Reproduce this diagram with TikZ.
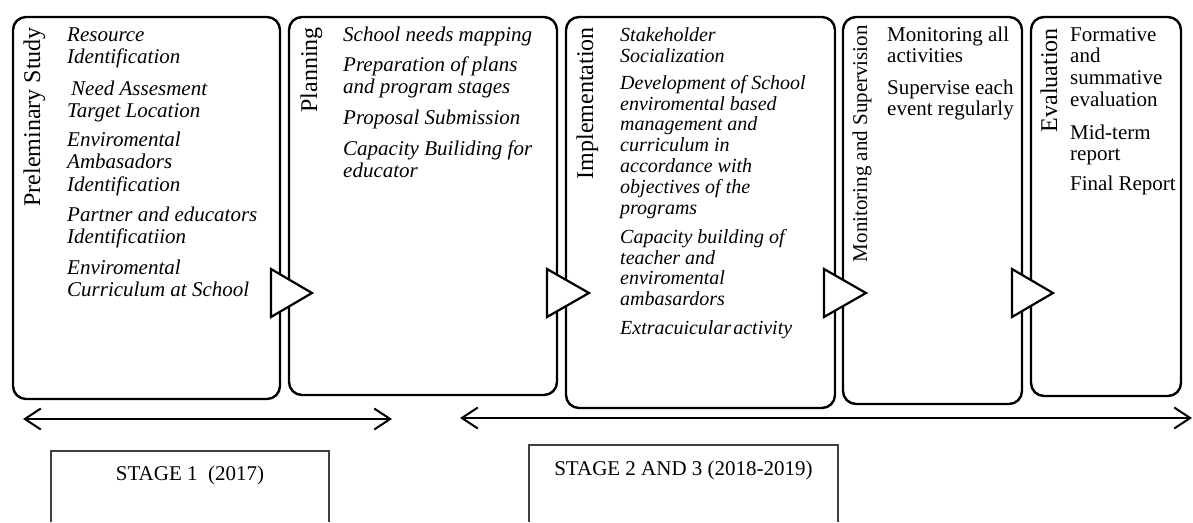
\documentclass[tikz,border=0pt]{standalone}
\usepackage{fontspec}
\setmainfont{Liberation Serif}
\usetikzlibrary{arrows.meta}

\begin{document}
\begin{tikzpicture}[x=1pt,y=-1pt,
  phase/.style={draw, line width=2.4pt, rounded corners=13pt},
  flow/.style={draw, fill=white, line width=2.2pt, line join=miter},
  lbl/.style={rotate=90, anchor=base east, inner sep=0pt, font=\fontsize{24}{26}\selectfont},
  lblsmall/.style={lbl, font=\fontsize{21}{23}\selectfont},
  % item nodes are placed by the baseline of their first line (strut height = 0.7 baselineskip)
  item/.style={anchor=north west, inner sep=0pt, align=left, yshift=15.75pt, font=\fontsize{21}{22.5}\selectfont\itshape},
  itemsmall/.style={item, yshift=-15.75pt, yshift=14.56pt, font=\fontsize{20}{20.8}\selectfont\itshape},
  itemup/.style={item, yshift=-15.75pt, yshift=15.19pt, font=\fontsize{21}{21.7}\selectfont},
  span/.style={line width=2pt, {Straight Barb[length=16pt,width=21pt]}-{Straight Barb[length=16pt,width=21pt]}},
  stagebox/.style={draw=black!75, line width=1.5pt},
  stagetext/.style={anchor=base, inner sep=0pt, font=\fontsize{21}{23}\selectfont}]

\useasboundingbox (0,0) rectangle (1193,522);

% phase frames
\draw[phase] (13,17) rectangle (280,399);
\draw[phase] (289,17) rectangle (557,395);
\draw[phase] (566,17) rectangle (835,408);
\draw[phase] (843,17) rectangle (1022,404);
\draw[phase] (1031,17) rectangle (1181,396);

% flow triangles between phases
\draw[flow] (271,269) -- (312,293) -- (271,317) -- cycle;
\draw[flow] (547,269) -- (589,293) -- (547,317) -- cycle;
\draw[flow] (824,269) -- (866,293) -- (824,317) -- cycle;
\draw[flow] (1012,269) -- (1053,293) -- (1012,317) -- cycle;

% phase titles
\node[lbl] (t1) at (40,27) {Preleminary Study};
\node[lbl] (t2) at (317,27) {Planning};
\node[lbl] (t3) at (593,27) {Implementation};
\node[lblsmall] (t4) at (867,25) {Monitoring and Supervision};
\node[lbl] (t5) at (1057,28) {Evaluation};

% preliminary study items
\node[item] (p1a) at (67,41) {\strut Resource\\Identification};
\node[item] (p1b) at (67,95) {\strut\hspace*{4pt}Need Assesment\\Target Location};
\node[item] (p1c) at (67,146) {\strut Enviromental\\Ambasadors\\Identification};
\node[item] (p1d) at (67,221) {\strut Partner and educators\\Identificatiion};
\node[item] (p1e) at (67,274) {\strut Enviromental\\Curriculum at School};

% planning items
\node[item] (p2a) at (343,41) {\strut School needs mapping};
\node[item] (p2b) at (343,71) {\strut Preparation of plans\\and program stages};
\node[item] (p2c) at (343,124) {\strut Proposal Submission};
\node[item] (p2d) at (343,155) {\strut Capacity Builiding for\\educator};

% implementation items
\node[itemsmall] (p3a) at (620,41) {\strut Stakeholder\\Socialization};
\node[itemsmall] (p3b) at (620,89) {\strut Development of School\\enviromental based\\management and\\curriculum in\\accordance with\\objectives of the\\programs};
\node[itemsmall] (p3c) at (620,243) {\strut Capacity building of\\teacher and\\enviromental\\ambasardors};
\node[itemsmall] (p3d) at (620,334) {\strut Extracuicular\kern2pt activity};

% monitoring items
\node[itemup] (p4a) at (887,41) {\strut Monitoring all\\activities};
\node[itemup] (p4b) at (887,94) {\strut Supervise\kern5pt each\\event regularly};

% evaluation items
\node[itemup] (p5a) at (1070,41) {\strut Formative\\and\\summative\\evaluation};
\node[itemup] (p5b) at (1070,139) {\strut Mid-term\\report};
\node[itemup] (p5c) at (1070,190) {\strut Final Report};

% time spans
\coordinate (s1l) at (23,419);
\coordinate (s1r) at (392,419);
\coordinate (s2l) at (460,418);
\coordinate (s2r) at (1192,418);
\draw[span] (s1l) -- (s1r);
\draw[span] (s2l) -- (s2r);

% stage boxes
\draw[stagebox] (51,522) -- (51,451) -- (329,451) -- (329,522);
\draw[stagebox] (529,522) -- (529,445) -- (838,445) -- (838,522);
\node[stagetext] (st1) at (190,480) {STAGE 1\ \ (2017)};
\node[stagetext] (st2) at (683.5,475) {STAGE 2 AND 3 (2018-2019)};

\end{tikzpicture}
\end{document}
